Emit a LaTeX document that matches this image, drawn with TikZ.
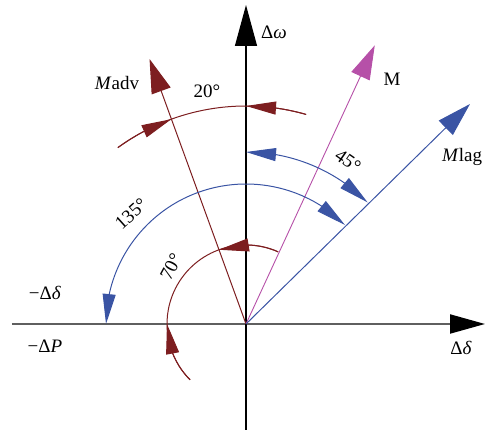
\documentclass[tikz,border=0pt]{standalone}
\usepackage{fontspec}
\setmainfont{Liberation Serif}
\usetikzlibrary{arrows.meta,bending}
\definecolor{dred}{RGB}{125,30,32}
\definecolor{dblue}{RGB}{58,84,164}
\definecolor{mag}{RGB}{182,80,168}
\definecolor{axgray}{RGB}{95,95,95}
\begin{document}
\begin{tikzpicture}[x=1pt,y=1pt,
  lbl/.style={font=\fontsize{19}{22}\selectfont, inner sep=0pt},
  vectip/.style={-{Triangle[length=34pt,width=20pt]}},
  arctip/.style={-{Triangle[length=30pt,width=13pt]}},
  arctips/.style={{Triangle[length=30pt,width=13pt]}-{Triangle[length=30pt,width=13pt]}},
  redline/.style={draw=dred,line width=1pt},
  blueline/.style={draw=dblue,line width=1pt},
]
\useasboundingbox (-246,-109) rectangle (239,324);

% axes
\coordinate (O) at (0,0);
\coordinate (ybot) at (0,-106);
\coordinate (ytop) at (0,319);
\coordinate (xl) at (-234,0);
\coordinate (xr) at (239,0);
\draw[axgray,line width=2pt,-{Triangle[length=35pt,width=19pt,color=black]}] (xl) -- (xr);
\draw[black,line width=1.2pt,-{Triangle[length=41pt,width=22pt]}] (ybot) -- (ytop);

% vectors
\coordinate (Madv) at (110:282);
\coordinate (M) at (65.2:307);
\coordinate (Mlag) at (224,220);
\draw[redline,vectip] (O) -- (Madv);
\draw[draw=mag,line width=0.9pt,vectip] (O) -- (M);
\draw[blueline,vectip] (O) -- (Mlag);

% 20 degree arc
\draw[redline] (74:218) arc (74:126:218);
\draw[redline,arctip] (74:218) arc (74:90:218);
\draw[redline,arctip] (126:218) arc (126:110:218);

% 45 degree arc
\draw[blueline,arctips] (90:172) arc (90:45:172);

% 135 degree arc
\draw[blueline,arctips] (45:140) arc (45:180:140);

% 70 degree arc
\draw[redline] (66:79) arc (66:225:79);
\draw[redline,arctip] (66:79) arc (66:110:79);
\draw[redline,arctip] (225:79) arc (225:180:79);

% labels
\node[lbl] (lw) at (28,292) {Δ\textit{ω}};
\node[lbl] (lM) at (146,245) {M};
\node[lbl,anchor=west] (lMlag) at (196,167) {\textit{M}lag};
\node[lbl] (lMadv) at (-129,241) {\textit{M}adv};
\node[lbl] (l20) at (-39,233) {20°};
\node[lbl,rotate=-35] (l45) at (102,163) {45°};
\node[lbl,rotate=42] (l135) at (-115,110) {135°};
\node[lbl,rotate=62] (l70) at (-75,57) {70°};
\node[lbl] (lmd) at (-201,31) {−Δ\textit{δ}};
\node[lbl] (lmP) at (-201,-22) {−Δ\textit{P}};
\node[lbl] (ld) at (215,-24) {Δ\textit{δ}};
\end{tikzpicture}
\end{document}
